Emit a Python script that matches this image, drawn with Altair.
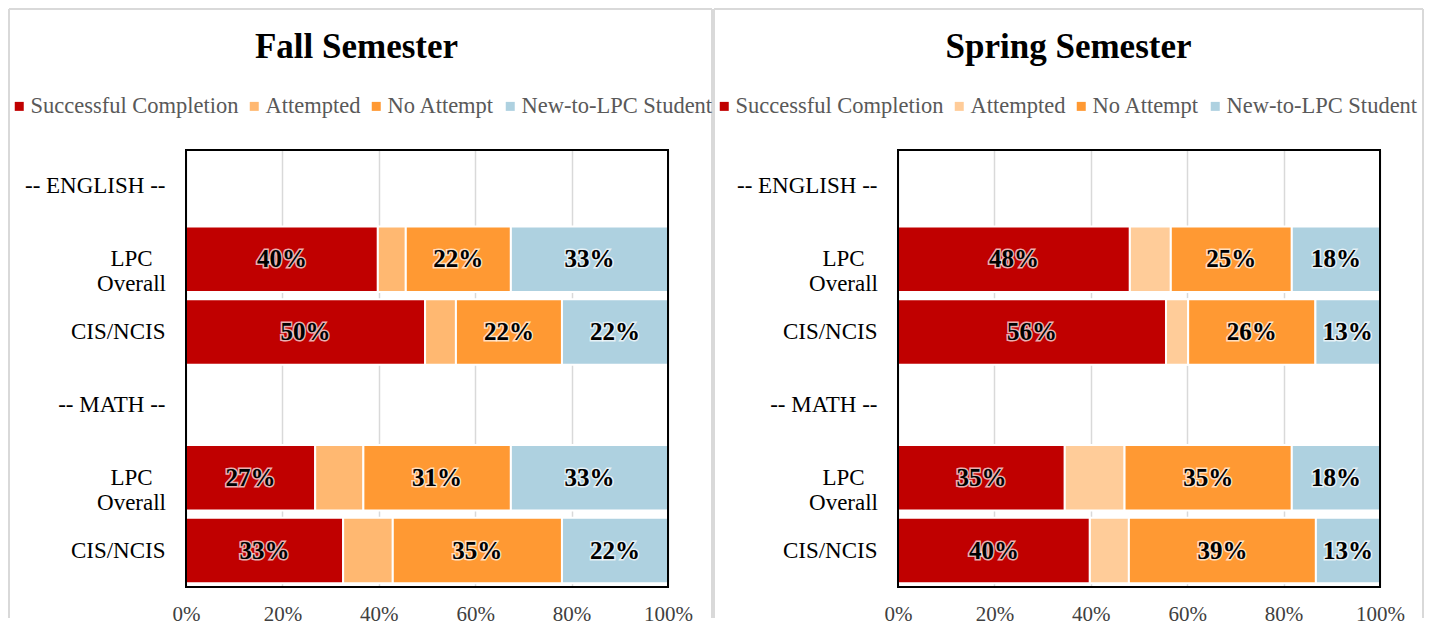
import altair as alt
import pandas as pd

# ---------------- data ----------------
categories = ["-- ENGLISH --", "LPC Overall|E", "CIS/NCIS|E", "-- MATH --", "LPC Overall|M", "CIS/NCIS|M"]
bar_rows = ["LPC Overall|E", "CIS/NCIS|E", "LPC Overall|M", "CIS/NCIS|M"]
series = ["Successful Completion", "Attempted", "No Attempt", "New-to-LPC Student"]

fall_success = [39.8, 49.6, 26.8, 32.6]
fall_attempted = [5.8, 6.4, 10.0, 10.3]
fall_noattempt = [21.8, 22.0, 30.6, 35.1]
fall_new = [32.6, 22.0, 32.6, 22.0]

spring_success = [48.1, 55.6, 34.6, 39.8]
spring_attempted = [8.5, 4.6, 12.4, 8.1]
spring_noattempt = [25.1, 26.4, 34.7, 38.8]
spring_new = [18.3, 13.4, 18.3, 13.3]

x_ticks = [0, 20, 40, 60, 80, 100]

fall_colors = ["#C00000", "#FFB871", "#FF9933", "#AED1E0"]
spring_colors = ["#C00000", "#FFCC99", "#FF9933", "#AED1E0"]

SERIF = "Liberation Serif"
W, H = 482, 437
BORDER = "#D9D9D9"


def build_df(cols):
    rows = []
    for i, cat in enumerate(bar_rows):
        start = 0.0
        for s, vals in zip(series, cols):
            v = vals[i]
            rows.append({
                "cat": cat, "series": s, "value": v,
                "start": start, "end": start + v, "mid": start + v / 2,
                "label": f"{int(round(v))}%",
            })
            start += v
    return pd.DataFrame(rows)


one = alt.Data(values=[{}])
two_line = pd.DataFrame({
    "cat": [c for c in categories if c.startswith("LPC")],
})
two_line["txt"] = [c.split("|")[0].replace(" ", "\n") for c in two_line["cat"]]


def panel(title, cols, colors, legend_x, title_x, left_rule_x, right_rule_x):
    df = build_df(cols)
    yscale = alt.Scale(domain=categories, paddingInner=0.1, paddingOuter=0.05)
    xscale = alt.Scale(domain=[0, 100], nice=False, zero=True)
    y_axis = alt.Axis(
        title=None, domain=False, ticks=False, tickSize=0, grid=False,
        labelFont=SERIF, labelFontSize=23, labelColor="#000000",
        labelPadding=21, labelLimit=300,
        labelExpr="indexof(datum.value, 'LPC') == 0 ? '' : split(datum.value, '|')[0]",
    )
    x_axis = alt.Axis(
        title=None, domain=False, ticks=False, tickSize=0, values=x_ticks,
        grid=True, gridColor="#D9D9D9", gridWidth=1.5,
        labelFont=SERIF, labelFontSize=21, labelColor="#404040",
        labelPadding=16, labelFlush=False,
        labelExpr="datum.value + '%'",
    )
    base = alt.Chart(df)
    bars = base.mark_bar(stroke="white", strokeWidth=2, opacity=1).encode(
        y=alt.Y("cat:N", scale=yscale, axis=y_axis),
        x=alt.X("start:Q", scale=xscale, axis=x_axis),
        x2="end:Q",
        color=alt.Color(
            "series:N",
            scale=alt.Scale(domain=series, range=colors),
            legend=alt.Legend(
                title=None, orient="none", legendX=legend_x, legendY=-55,
                direction="horizontal", columns=4, symbolType="square",
                symbolSize=81, symbolStrokeWidth=0, labelFont=SERIF,
                labelFontSize=22.5, labelColor="#595959", labelOffset=0,
                columnPadding=4, labelLimit=0, padding=0,
            ),
        ),
    )
    lbl = base.transform_filter(alt.datum.series != "Attempted")
    halo = lbl.mark_text(
        font=SERIF, fontSize=25, fontWeight="bold", color="black",
        stroke="white", strokeWidth=3, strokeOpacity=0.7,
        align="center", baseline="middle",
    ).encode(y=alt.Y("cat:N", scale=yscale), x=alt.X("mid:Q", scale=xscale), text="label:N")
    text = lbl.mark_text(
        font=SERIF, fontSize=25, fontWeight="bold", color="black",
        align="center", baseline="middle",
    ).encode(y=alt.Y("cat:N", scale=yscale), x=alt.X("mid:Q", scale=xscale), text="label:N")

    ylab2 = alt.Chart(two_line).mark_text(
        font=SERIF, fontSize=23, color="black", align="center",
        baseline="middle", lineBreak="\n", lineHeight=25,
    ).encode(y=alt.Y("cat:N", scale=yscale), x=alt.value(-54.5), text="txt:N")

    frame = alt.Chart(one).mark_rect(
        fillOpacity=0, stroke="black", strokeWidth=2
    ).encode(x=alt.value(0), x2=alt.value(W), y=alt.value(0), y2=alt.value(H))

    ttl = alt.Chart(one).mark_text(
        text=title, font=SERIF, fontSize=35, fontWeight="bold", color="black",
        align="center", baseline="alphabetic",
    ).encode(x=alt.value(title_x), y=alt.value(-92))

    top_rule = alt.Chart(one).mark_rule(color=BORDER, strokeWidth=2).encode(
        x=alt.value(left_rule_x), x2=alt.value(right_rule_x), y=alt.value(-141)
    )
    left_rule = alt.Chart(one).mark_rule(color=BORDER, strokeWidth=2).encode(
        x=alt.value(left_rule_x), y=alt.value(-141), y2=alt.value(468)
    )
    right_rule = alt.Chart(one).mark_rule(color=BORDER, strokeWidth=2).encode(
        x=alt.value(right_rule_x), y=alt.value(-141), y2=alt.value(468)
    )

    return alt.layer(
        top_rule, left_rule, right_rule, bars, halo, text, ylab2, frame, ttl
    ).resolve_scale(x="shared", y="shared").properties(width=W, height=H)


left = panel("Fall Semester",
             [fall_success, fall_attempted, fall_noattempt, fall_new],
             fall_colors, legend_x=-178, title_x=170.5,
             left_rule_x=-177, right_rule_x=526)
right = panel("Spring Semester",
              [spring_success, spring_attempted, spring_noattempt, spring_new],
              spring_colors, legend_x=-185, title_x=170.5,
              left_rule_x=-184, right_rule_x=525)

chart = (
    alt.hconcat(left, right, spacing=0)
    .resolve_scale(color="independent", x="independent", y="independent")
    .resolve_legend(color="independent")
    .properties(padding=0)
    .configure_view(stroke=None)
)

chart.save("out.html", embed_options={"renderer": "svg", "actions": False})
